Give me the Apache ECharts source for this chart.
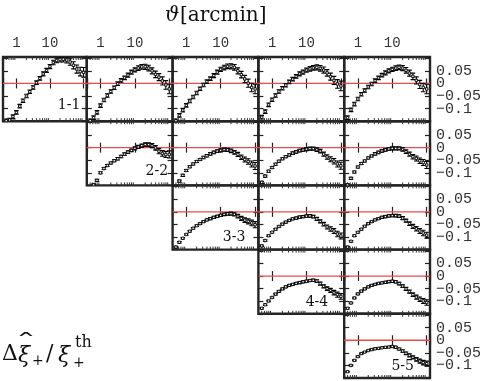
<!DOCTYPE html>
<html>
<head>
<meta charset="utf-8">
<script src="https://cdn.jsdelivr.net/npm/echarts@6/dist/echarts.min.js"></script>
<style>
  html, body { margin: 0; padding: 0; background: #fff; }
  #chart { width: 485px; height: 381px; }
</style>
</head>
<body>
<div id="chart"></div>
<script>
// angular bins [arcmin]
const THETA = [0.5, 0.63, 0.79, 1.0, 1.26, 1.58, 2.0, 2.51, 3.16, 3.98, 5.01, 6.31, 7.94, 10.0,
               12.6, 15.8, 20.0, 25.1, 31.6, 39.8, 50.1, 63.1, 79.4, 100];

// relative deviation per tomographic pair
const XI_11 = [-0.148, -0.145, -0.132, -0.115, -0.090, -0.069, -0.050, -0.033, -0.016, 0.003, 0.020, 0.038,
               0.052, 0.067, 0.083, 0.091, 0.095, 0.096, 0.093, 0.085, 0.072, 0.057, 0.047, 0.044];
const XI_12 = [-0.148, -0.136, -0.115, -0.088, -0.066, -0.048, -0.032, -0.017, -0.001, 0.012, 0.022, 0.033,
               0.045, 0.054, 0.061, 0.066, 0.066, 0.061, 0.050, 0.036, 0.025, 0.010, -0.006, -0.022];
const XI_13 = [-0.148, -0.127, -0.106, -0.087, -0.070, -0.054, -0.038, -0.021, -0.006, 0.007, 0.019, 0.031,
               0.045, 0.056, 0.063, 0.068, 0.068, 0.064, 0.050, 0.035, 0.018, 0.001, -0.016, -0.022];
const XI_14 = [-0.134, -0.112, -0.085, -0.065, -0.048, -0.032, -0.019, -0.007, 0.006, 0.017, 0.028, 0.038,
               0.045, 0.053, 0.058, 0.062, 0.064, 0.060, 0.053, 0.042, 0.027, 0.012, -0.002, -0.010];
const XI_15 = [-0.136, -0.105, -0.082, -0.062, -0.043, -0.028, -0.014, -0.002, 0.011, 0.022, 0.033, 0.042,
               0.050, 0.056, 0.061, 0.064, 0.061, 0.052, 0.041, 0.028, 0.012, -0.004, -0.016, -0.022];
const XI_22 = [-0.160, -0.148, -0.130, -0.100, -0.083, -0.071, -0.061, -0.052, -0.044, -0.035, -0.026, -0.018,
               -0.011, -0.003, 0.003, 0.008, 0.012, 0.012, 0.008, -0.001, -0.014, -0.023, -0.027, -0.027];
const XI_23 = [-0.155, -0.133, -0.110, -0.091, -0.076, -0.065, -0.055, -0.047, -0.039, -0.032, -0.025, -0.019,
               -0.014, -0.011, -0.008, -0.009, -0.013, -0.019, -0.027, -0.038, -0.047, -0.055, -0.065, -0.073];
const XI_24 = [-0.138, -0.113, -0.094, -0.079, -0.066, -0.054, -0.044, -0.036, -0.029, -0.022, -0.017, -0.012,
               -0.009, -0.006, -0.004, -0.004, -0.008, -0.014, -0.026, -0.037, -0.046, -0.054, -0.065, -0.072];
const XI_25 = [-0.148, -0.122, -0.097, -0.077, -0.063, -0.053, -0.041, -0.033, -0.025, -0.019, -0.013, -0.009,
               -0.005, -0.003, -0.003, -0.003, -0.007, -0.016, -0.026, -0.036, -0.043, -0.052, -0.059, -0.069];
const XI_33 = [-0.140, -0.121, -0.105, -0.090, -0.077, -0.065, -0.055, -0.047, -0.039, -0.032, -0.027, -0.022,
               -0.018, -0.014, -0.010, -0.008, -0.007, -0.010, -0.017, -0.026, -0.033, -0.038, -0.044, -0.051];
const XI_34 = [-0.135, -0.114, -0.095, -0.081, -0.069, -0.058, -0.049, -0.041, -0.034, -0.028, -0.025, -0.021,
               -0.019, -0.017, -0.016, -0.019, -0.028, -0.038, -0.049, -0.060, -0.068, -0.076, -0.088, -0.096];
const XI_35 = [-0.140, -0.117, -0.095, -0.081, -0.069, -0.057, -0.047, -0.039, -0.032, -0.027, -0.022, -0.019,
               -0.016, -0.015, -0.015, -0.017, -0.025, -0.035, -0.047, -0.058, -0.067, -0.076, -0.084, -0.093];
const XI_44 = [-0.128, -0.114, -0.099, -0.085, -0.072, -0.061, -0.051, -0.043, -0.037, -0.033, -0.029, -0.026,
               -0.023, -0.021, -0.018, -0.017, -0.020, -0.030, -0.041, -0.050, -0.057, -0.066, -0.074, -0.081];
const XI_45 = [-0.128, -0.107, -0.087, -0.071, -0.060, -0.051, -0.043, -0.037, -0.033, -0.029, -0.027, -0.025,
               -0.022, -0.021, -0.023, -0.030, -0.040, -0.051, -0.062, -0.074, -0.084, -0.092, -0.099, -0.105];
const XI_55 = [-0.125, -0.100, -0.080, -0.065, -0.053, -0.047, -0.041, -0.037, -0.034, -0.032, -0.030, -0.028,
               -0.027, -0.025, -0.028, -0.035, -0.043, -0.052, -0.060, -0.068, -0.076, -0.083, -0.089, -0.093];

// error bars, one set per first redshift bin
const ERR_1 = [0.007, 0.007, 0.007, 0.007, 0.007, 0.007, 0.007, 0.007, 0.007, 0.007, 0.007, 0.008,
               0.008, 0.008, 0.009, 0.009, 0.010, 0.011, 0.012, 0.013, 0.014, 0.016, 0.017, 0.019];
const ERR_2 = [0.004, 0.004, 0.004, 0.004, 0.004, 0.004, 0.004, 0.004, 0.005, 0.005, 0.005, 0.005,
               0.005, 0.006, 0.006, 0.006, 0.007, 0.007, 0.008, 0.009, 0.010, 0.011, 0.012, 0.014];
const ERR_3 = [0.003, 0.003, 0.003, 0.003, 0.003, 0.003, 0.003, 0.003, 0.003, 0.003, 0.004, 0.004,
               0.004, 0.004, 0.005, 0.005, 0.006, 0.006, 0.007, 0.008, 0.009, 0.010, 0.011, 0.012];
const ERR_4 = [0.003, 0.003, 0.003, 0.003, 0.003, 0.003, 0.003, 0.003, 0.003, 0.003, 0.003, 0.004,
               0.004, 0.004, 0.004, 0.005, 0.005, 0.006, 0.006, 0.007, 0.008, 0.009, 0.010, 0.011];
const ERR_5 = [0.002, 0.002, 0.002, 0.002, 0.002, 0.002, 0.002, 0.003, 0.003, 0.003, 0.003, 0.003,
               0.003, 0.004, 0.004, 0.004, 0.005, 0.005, 0.006, 0.006, 0.007, 0.008, 0.009, 0.010];

const PANELS = [
  [0, 0, XI_11, ERR_1], [0, 1, XI_12, ERR_1], [0, 2, XI_13, ERR_1], [0, 3, XI_14, ERR_1], [0, 4, XI_15, ERR_1],
  [1, 1, XI_22, ERR_2], [1, 2, XI_23, ERR_2], [1, 3, XI_24, ERR_2], [1, 4, XI_25, ERR_2],
  [2, 2, XI_33, ERR_3], [2, 3, XI_34, ERR_3], [2, 4, XI_35, ERR_3],
  [3, 3, XI_44, ERR_4], [3, 4, XI_45, ERR_4],
  [4, 4, XI_55, ERR_5]
];

const BIN_LABELS = ['1-1', '2-2', '3-3', '4-4', '5-5'];
const X_TICK_LABELS = [1, 10];
const Y_TICK_LABELS = { '0.05': '0.05', '0': '0', '-0.05': '\u22120.05', '-0.1': '\u22120.1' };
const MINOR_TICKS = [0.5, 0.6, 0.7, 0.8, 0.9, 2, 3, 4, 5, 6, 7, 8, 9,
                     20, 30, 40, 50, 60, 70, 80, 90];
const ZERO = 0;

const X_MIN = 0.4, X_MAX = 125;
const Y_MIN = -0.15, Y_MAX = 0.105;

const PW = 85.8, PH = 64.2, LEFT0 = 1, TOP0 = 57;
const MONO = '"Liberation Mono", "DejaVu Sans Mono", monospace';
const SERIF = '"DejaVu Serif", serif';

function renderErrorBar(params, api) {
  const x = api.value(0), y = api.value(1), e = api.value(2);
  const c = api.coord([x, y]);
  const lo = api.coord([x, y - e]);
  const hi = api.coord([x, y + e]);
  const cap = 2.3, h = 1.2;
  const st = { stroke: '#000', lineWidth: 1.1 };
  return {
    type: 'group',
    children: [
      { type: 'line', shape: { x1: c[0], y1: lo[1], x2: c[0], y2: hi[1] }, style: st },
      { type: 'line', shape: { x1: c[0] - cap, y1: lo[1], x2: c[0] + cap, y2: lo[1] }, style: st },
      { type: 'line', shape: { x1: c[0] - cap, y1: hi[1], x2: c[0] + cap, y2: hi[1] }, style: st },
      { type: 'rect', shape: { x: c[0] - h, y: c[1] - h, width: 2 * h, height: 2 * h },
        style: { fill: '#fff', stroke: '#000', lineWidth: 0.9 } }
    ]
  };
}

// minor log ticks on bottom/top frame, plus the red zero reference line
function renderFrameDecor(params, api) {
  const v = api.value(0);
  const b = api.coord([v, Y_MIN]);
  const t = api.coord([v, Y_MAX]);
  const st = { stroke: '#333', lineWidth: 1 };
  const children = [
    { type: 'line', shape: { x1: b[0], y1: b[1], x2: b[0], y2: b[1] - 3 }, style: st },
    { type: 'line', shape: { x1: t[0], y1: t[1], x2: t[0], y2: t[1] + 3 }, style: st }
  ];
  if (params.dataIndex === 0) {
    const z0 = api.coord([X_MIN, ZERO]);
    const z1 = api.coord([X_MAX, ZERO]);
    children.push({ type: 'line', shape: { x1: z0[0], y1: z0[1], x2: z1[0], y2: z1[1] },
                    style: { stroke: '#ef4a4a', lineWidth: 1.3 }, z2: 10 });
  }
  return { type: 'group', children: children };
}

const grid = [], xAxis = [], yAxis = [], series = [];
const tickStyle = { inside: true, length: 5, lineStyle: { color: '#222', width: 1.2 } };

PANELS.forEach(([r, c, vals, err], g) => {
  grid.push({
    left: LEFT0 + PW * c, top: TOP0 + PH * r, width: PW, height: PH,
    show: true, borderColor: '#252525', borderWidth: 2.4, backgroundColor: 'transparent'
  });
  const xBase = {
    gridIndex: g, type: 'log', min: X_MIN, max: X_MAX,
    axisLine: { show: false }, axisTick: tickStyle, splitLine: { show: false }
  };
  xAxis.push(Object.assign({}, xBase, { position: 'bottom', axisLabel: { show: false } }));
  xAxis.push(Object.assign({}, xBase, {
    position: 'top',
    axisLabel: {
      show: r === 0, margin: 7, color: '#333', fontFamily: MONO, fontSize: 14,
      formatter: v => X_TICK_LABELS.indexOf(Math.round(v * 1000) / 1000) >= 0 ? String(Math.round(v)) : ''
    }
  }));
  const yBase = {
    gridIndex: g, type: 'value', min: Y_MIN, max: Y_MAX, interval: 0.05,
    axisLine: { show: false }, axisTick: tickStyle, splitLine: { show: false }
  };
  yAxis.push(Object.assign({}, yBase, { position: 'left', axisLabel: { show: false } }));
  yAxis.push(Object.assign({}, yBase, {
    position: 'right',
    axisLabel: {
      show: c === 4, margin: 6, color: '#333', fontFamily: MONO, fontSize: 15,
      formatter: v => Y_TICK_LABELS[String(Math.round(v * 100) / 100)] || ''
    }
  }));

  series.push({
    type: 'custom', xAxisIndex: 2 * g, yAxisIndex: 2 * g, silent: true,
    data: MINOR_TICKS.map(v => [v, Y_MIN]), renderItem: renderFrameDecor, z: 2
  });
  series.push({
    type: 'custom', xAxisIndex: 2 * g, yAxisIndex: 2 * g, silent: true, clip: true,
    data: THETA.map((t, k) => [t, vals[k], err[k]]),
    renderItem: renderErrorBar, z: 3
  });
});

// diagonal bin labels: right edge and vertical centre offsets inside each panel
const labelOffsets = [[6.5, 48], [4.5, 50], [13, 52], [16, 53], [16, 53]];
const graphic = BIN_LABELS.map((txt, i) => ({
  type: 'text',
  x: LEFT0 + PW * (i + 1) - labelOffsets[i][0],
  y: TOP0 + PH * i + labelOffsets[i][1],
  z: 50,
  style: { text: txt, font: '14px ' + SERIF, fill: '#111',
           textAlign: 'right', textVerticalAlign: 'middle', align: 'right', verticalAlign: 'middle' }
}));

function txt(x, y, s, font, align) {
  const a = align || 'left';
  return { type: 'text', x: x, y: y,
    style: { text: s, font: font, fill: '#111', textAlign: a, textVerticalAlign: 'middle',
             align: a, verticalAlign: 'middle' } };
}

// axis title
graphic.push(txt(165, 16, '\u03D1', 'italic 20px ' + SERIF));
graphic.push(txt(180, 16, '[arcmin]', '20px ' + SERIF));

// y label: Delta xi-hat_+ / xi_+^th
graphic.push(txt(2, 354, '\u0394', '22px ' + SERIF));
graphic.push(txt(18, 356, '\u03BE', 'italic 22px ' + SERIF));
graphic.push(Object.assign(txt(26, 344, '\u02C6', '22px ' + SERIF, 'center'), { scaleX: 1.9, originX: 0, originY: 0 }));
graphic.push(txt(32, 361, '+', '14px ' + SERIF));
graphic.push(txt(46, 354, '/', '22px ' + SERIF));
graphic.push(txt(58, 356, '\u03BE', 'italic 22px ' + SERIF));
graphic.push(txt(73, 363, '+', '14px ' + SERIF));
graphic.push(txt(75, 343, 'th', '16px ' + SERIF));

const chart = echarts.init(document.getElementById('chart'));
chart.setOption({
  animation: false,
  backgroundColor: '#fff',
  grid: grid,
  xAxis: xAxis,
  yAxis: yAxis,
  series: series,
  graphic: graphic
});
</script>
</body>
</html>
